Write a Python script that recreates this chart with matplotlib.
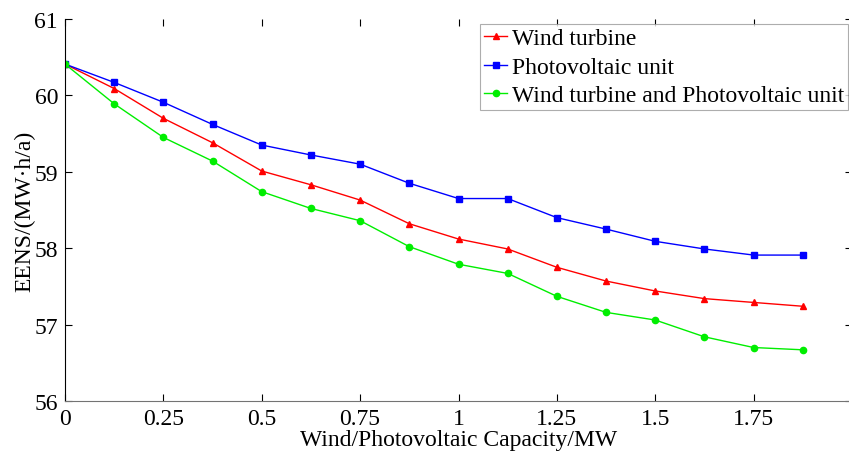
import numpy as np
import matplotlib.pyplot as plt
import matplotlib

matplotlib.rc('font', **{'family': 'serif',
                         'serif': ['Liberation Serif'], 'size': 17})

capacity = [0, 0.125, 0.25, 0.375, 0.5, 0.625, 0.75, 0.875,
            1.0, 1.125, 1.25, 1.375, 1.5, 1.625, 1.75, 1.875]
eens_wind = [60.41, 60.09, 59.70, 59.38, 59.01, 58.83, 58.63, 58.32,
             58.12, 57.99, 57.75, 57.57, 57.44, 57.34, 57.29, 57.24]
eens_pv = [60.41, 60.17, 59.91, 59.62, 59.35, 59.22, 59.10, 58.85,
           58.65, 58.65, 58.40, 58.25, 58.09, 57.99, 57.91, 57.91]
eens_both = [60.41, 59.89, 59.45, 59.14, 58.74, 58.52, 58.36, 58.02,
             57.79, 57.67, 57.37, 57.16, 57.06, 56.84, 56.70, 56.67]
xticks = [0, 0.25, 0.5, 0.75, 1, 1.25, 1.5, 1.75]
xtick_labels = ['0', '0.25', '0.5', '0.75', '1', '1.25', '1.5', '1.75']

fig = plt.figure(figsize=(8.49, 4.52), dpi=100)
ax = fig.add_axes([65/849, 1-402/452, (852-65)/849, (402-20)/452])

ax.plot(capacity, eens_wind, color='#ff0000', lw=1, marker='^', ms=4.5,
        label='Wind turbine')
ax.plot(capacity, eens_pv, color='#0000ff', lw=1, marker='s', ms=4,
        label='Photovoltaic unit')
ax.plot(capacity, eens_both, color='#00ee00', lw=1, marker='o', ms=4.5,
        label='Wind turbine and Photovoltaic unit')

ax.set_xlim(0, 2)
ax.set_ylim(56, 61)
ax.set_xticks(xticks)
ax.set_xticklabels(xtick_labels)
ax.set_yticks([56, 57, 58, 59, 60, 61])
ax.tick_params(direction='in', length=5, width=0.8, top=True, right=True,
               pad=5, labelsize=17)
ax.spines['top'].set_visible(False)
ax.spines['right'].set_visible(False)
ax.spines['bottom'].set_color('0.45')
ax.set_xlabel('Wind/Photovoltaic Capacity/MW', fontsize=17, labelpad=0)
ax.set_ylabel('EENS/(MW·h/a)', fontsize=17, labelpad=-1)

leg = ax.legend(loc='lower right', bbox_to_anchor=(848/849, 1-111/452),
                bbox_transform=fig.transFigure, fancybox=False,
                handlelength=1.0, handletextpad=0.2, borderpad=0.15,
                labelspacing=0.3, borderaxespad=0, fontsize=17)
leg.get_frame().set_edgecolor('0.6')
leg.get_frame().set_linewidth(0.8)

fig.savefig('out.png', dpi=100)
plt.close()
